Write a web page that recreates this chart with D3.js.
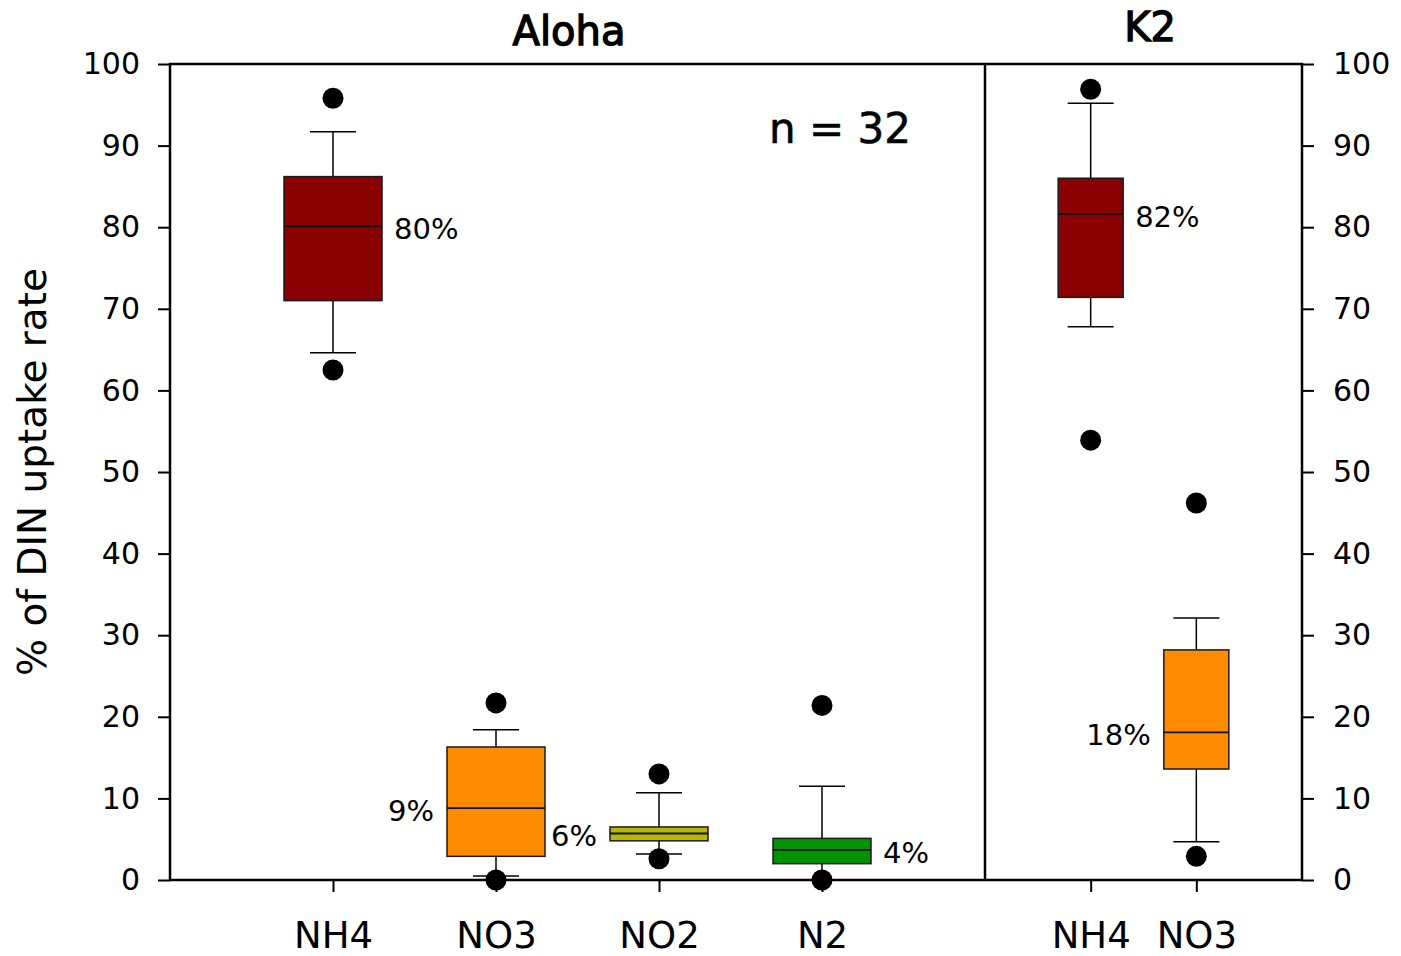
<!DOCTYPE html>
<html>
<head>
<meta charset="utf-8">
<script src="https://cdn.jsdelivr.net/npm/d3@7"></script>
<style>
  html, body { margin: 0; padding: 0; background: #fff; }
  svg { display: block; }
  text { font-family: "DejaVu Sans", Verdana, sans-serif; fill: #000; }
</style>
</head>
<body>
<svg id="chart" width="1401" height="956"></svg>
<script>
// Uptake-rate share per nitrogen source, two stations
const alohaCats = ["NH4", "NO3", "NO2", "N2"];
const alohaLow  = [64.6, 0.5, 3.2, 0.0];     // lower whisker
const alohaQ1   = [71.0, 2.9, 4.8, 2.0];
const alohaMed  = [80.1, 8.8, 5.7, 3.7];
const alohaQ3   = [86.2, 16.3, 6.5, 5.1];
const alohaHigh = [91.7, 18.4, 10.7, 11.5];  // upper whisker
const alohaOut  = [[62.5, 95.8], [0.0, 21.7], [2.6, 13.0], [0.0, 21.4]];
const alohaLabelSide = ["right", "left", "left", "right"];

const k2Cats = ["NH4", "NO3"];
const k2Low  = [67.8, 4.7];
const k2Q1   = [71.4, 13.6];
const k2Med  = [81.6, 18.1];
const k2Q3   = [86.0, 28.2];
const k2High = [95.2, 32.1];
const k2Out  = [[53.9, 96.9], [2.9, 46.2]];
const k2LabelSide = ["right", "left"];

const yTicks = [0, 10, 20, 30, 40, 50, 60, 70, 80, 90, 100];
const sampleNote = "n = 32";

const fillColor = { NH4: "#8b0000", NO3: "#ff8c00", NO2: "#b8b800", N2: "#009300" };

const svg = d3.select("#chart");

const plotL = 170, plotR = 1302, plotT = 64, plotB = 880, split = 985;

const y = d3.scaleLinear().domain([0, 100]).range([plotB, plotT]);
const xA = d3.scalePoint().domain(alohaCats).range([plotL, split]).padding(1);
const xK = d3.scalePoint().domain(k2Cats).range([split, plotR]).padding(1);

// y axes on both sides
const yl = svg.append("g").attr("transform", `translate(${plotL},0)`)
  .call(d3.axisLeft(y).tickValues(yTicks).tickSize(12).tickPadding(18));
const yr = svg.append("g").attr("transform", `translate(${plotR},0)`)
  .call(d3.axisRight(y).tickValues(yTicks).tickSize(12).tickPadding(19));
[yl, yr].forEach(g => {
  g.select(".domain").remove();
  g.selectAll("line").attr("stroke", "#000").attr("stroke-width", 2);
  g.selectAll("text").style("font-size", "30px").attr("font-family", "DejaVu Sans, Verdana, sans-serif");
});

// category axes
[xA, xK].forEach(sc => {
  const g = svg.append("g").attr("transform", `translate(0,${plotB})`)
    .call(d3.axisBottom(sc).tickSize(12).tickPadding(30));
  g.select(".domain").remove();
  g.selectAll("line").attr("stroke", "#000").attr("stroke-width", 2);
  g.selectAll("text").style("font-size", "37px").attr("font-family", "DejaVu Sans, Verdana, sans-serif");
});

function drawBoxes(cats, sc, lo, q1, med, q3, hi, outs, sides, boxW) {
  const capW = 46;
  const g = svg.append("g");
  cats.forEach((c, i) => {
    const cx = sc(c);
    // whiskers
    g.append("line").attr("x1", cx).attr("x2", cx).attr("y1", y(hi[i])).attr("y2", y(q3[i]))
      .attr("stroke", "#000").attr("stroke-width", 1.5);
    g.append("line").attr("x1", cx).attr("x2", cx).attr("y1", y(q1[i])).attr("y2", y(lo[i]))
      .attr("stroke", "#000").attr("stroke-width", 1.5);
    [hi[i], lo[i]].forEach(v => {
      g.append("line").attr("x1", cx - capW / 2).attr("x2", cx + capW / 2)
        .attr("y1", y(v)).attr("y2", y(v)).attr("stroke", "#000").attr("stroke-width", 1.5);
    });
    // box
    g.append("rect").attr("x", cx - boxW / 2).attr("width", boxW)
      .attr("y", y(q3[i])).attr("height", y(q1[i]) - y(q3[i]))
      .attr("fill", fillColor[c]).attr("stroke", "#1a1a1a").attr("stroke-width", 1.5);
    g.append("line").attr("x1", cx - boxW / 2).attr("x2", cx + boxW / 2)
      .attr("y1", y(med[i])).attr("y2", y(med[i])).attr("stroke", "#111").attr("stroke-width", 1.8);
    // outliers
    outs[i].forEach(v => {
      g.append("circle").attr("cx", cx).attr("cy", y(v)).attr("r", 10.5).attr("fill", "#000");
    });
    // median label
    const isRight = sides[i] === "right";
    g.append("text")
      .attr("x", isRight ? cx + boxW / 2 + 12 : cx - boxW / 2 - 13)
      .attr("y", y(med[i]) + 3)
      .attr("dominant-baseline", "central")
      .attr("text-anchor", isRight ? "start" : "end")
      .style("font-size", "29px")
      .text(Math.round(med[i]) + "%");
  });
}

drawBoxes(alohaCats, xA, alohaLow, alohaQ1, alohaMed, alohaQ3, alohaHigh, alohaOut, alohaLabelSide, 98);
drawBoxes(k2Cats, xK, k2Low, k2Q1, k2Med, k2Q3, k2High, k2Out, k2LabelSide, 65);

// frame and panel divider
const frame = svg.append("g").attr("stroke", "#000").attr("stroke-width", 2.5).attr("fill", "none");
frame.append("rect").attr("x", plotL).attr("y", plotT).attr("width", plotR - plotL).attr("height", plotB - plotT);
frame.append("line").attr("x1", split).attr("x2", split).attr("y1", plotT).attr("y2", plotB);

// panel titles (medium weight)
[["Aloha", 569, 45], ["K2", 1150, 41]].forEach(([t, x, yy]) => {
  svg.append("text").attr("x", x).attr("y", yy).attr("text-anchor", "middle")
    .style("font-size", "40px").attr("stroke", "#000").attr("stroke-width", 1.3)
    .text(t);
});

svg.append("text").attr("x", 840).attr("y", 143).attr("text-anchor", "middle")
  .style("font-size", "42px").attr("stroke", "#000").attr("stroke-width", 0.6)
  .text(sampleNote);

// y axis title
svg.append("text").attr("transform", "translate(46,472) rotate(-90)")
  .attr("text-anchor", "middle").style("font-size", "39px").text("% of DIN uptake rate");
</script>
</body>
</html>
